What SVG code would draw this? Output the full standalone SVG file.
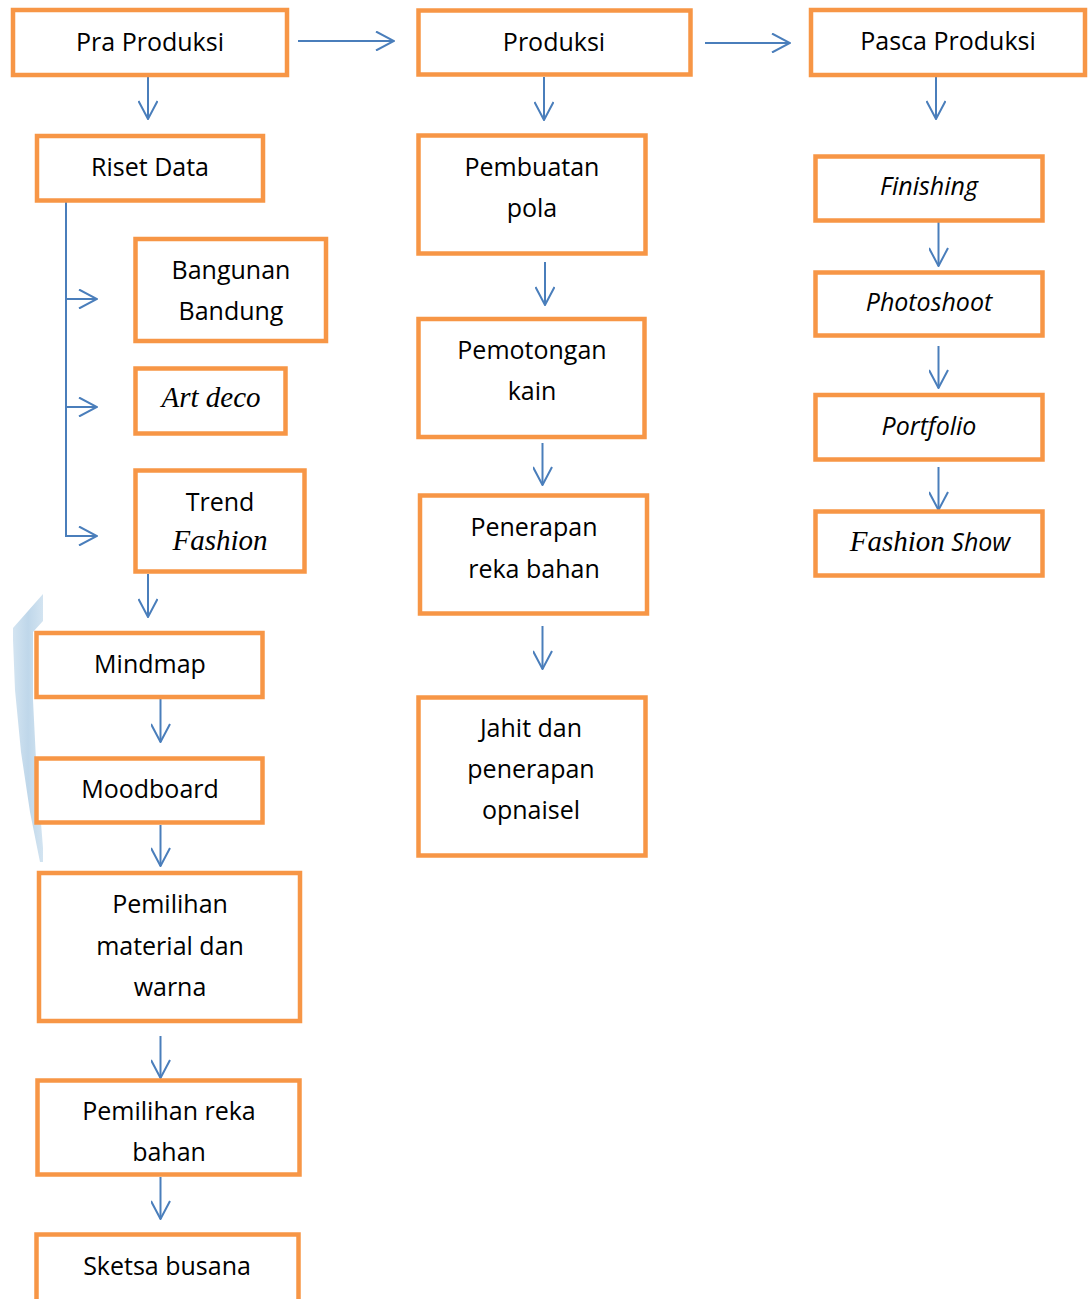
<svg xmlns="http://www.w3.org/2000/svg" width="1091" height="1299" viewBox="0 0 1091 1299">
<defs>
<style>
.box{fill:#fff;stroke:#F79646;stroke-width:4.5}
.t{font-family:"Open Sans","Liberation Sans",sans-serif;font-size:25px;fill:#000;text-anchor:middle}
.it{font-style:italic}
.sr{font-family:"Liberation Serif","Times New Roman",serif;font-style:italic;font-size:29px}
.c{fill:none;stroke:#4A7EBB;stroke-width:2;marker-end:url(#chev)}
</style>
<marker id="chev" viewBox="0 0 20 20" refX="19" refY="10" markerWidth="20" markerHeight="20" markerUnits="userSpaceOnUse" orient="auto">
<path d="M1,0.5 L19,10 L1,19.5" fill="none" stroke="#4A7EBB" stroke-width="2"/>
</marker>
<linearGradient id="wm" x1="0" y1="0" x2="1" y2="0">
<stop offset="0" stop-color="#D3E4F1"/>
<stop offset="0.5" stop-color="#BFD7EA"/>
<stop offset="1" stop-color="#D3E4F1"/>
</linearGradient>
</defs>
<rect width="1091" height="1299" fill="#fff"/>
<polygon points="43,594 43,621 33,632 33,700 36,760 43,848 43,862 40,862 30,812 21,752 15,690 13,640 13,628" fill="url(#wm)"/>

<g id="connectors">
<path class="c" d="M298,41 H394"/>
<path class="c" d="M705,43 H790"/>
<path class="c" d="M148,77 V119"/>
<path class="c" d="M544,77 V120"/>
<path class="c" d="M936,77 V119"/>
<path class="c" d="M37,200 H66 V536 H97"/>
<path class="c" d="M66,299 H97"/>
<path class="c" d="M66,407 H97"/>
<path class="c" d="M148,574 V617"/>
<path class="c" d="M160.5,699 V742"/>
<path class="c" d="M160.5,825 V866"/>
<path class="c" d="M160.5,1036 V1078"/>
<path class="c" d="M160.5,1177 V1219"/>
<path class="c" d="M545,262 V305"/>
<path class="c" d="M542.5,443 V485"/>
<path class="c" d="M542.5,626 V669"/>
<path class="c" d="M938.5,222 V266"/>
<path class="c" d="M938.5,346 V388"/>
<path class="c" d="M938.5,467 V510"/>
</g>

<g id="pra-produksi"><rect class="box" x="13" y="10" width="274" height="65"/><text class="t" x="150" y="51">Pra Produksi</text></g>
<g id="riset-data"><rect class="box" x="37" y="136" width="226" height="64.5"/><text class="t" x="150" y="176">Riset Data</text></g>
<g id="bangunan-bandung"><rect class="box" x="135.5" y="239" width="190.5" height="102"/><text class="t" x="231" y="279">Bangunan</text><text class="t" x="231" y="320">Bandung</text></g>
<g id="art-deco"><rect class="box" x="135.5" y="368.5" width="150" height="65"/><text class="t sr" x="211" y="407">Art deco</text></g>
<g id="trend-fashion"><rect class="box" x="135.5" y="470.5" width="169" height="101"/><text class="t" x="220" y="511">Trend</text><text class="t sr" x="220" y="550">Fashion</text></g>
<g id="mindmap"><rect class="box" x="36.5" y="633" width="226" height="64"/><text class="t" x="150" y="673">Mindmap</text></g>
<g id="moodboard"><rect class="box" x="36.5" y="758.5" width="226" height="64"/><text class="t" x="150" y="798">Moodboard</text></g>
<g id="pemilihan-material"><rect class="box" x="39" y="873" width="261" height="148"/><text class="t" x="170" y="913">Pemilihan</text><text class="t" x="170" y="955">material dan</text><text class="t" x="170" y="996">warna</text></g>
<g id="pemilihan-reka"><rect class="box" x="37.5" y="1080.5" width="262" height="94"/><text class="t" x="169" y="1120">Pemilihan reka</text><text class="t" x="169" y="1161">bahan</text></g>
<g id="sketsa-busana"><rect class="box" x="36.5" y="1234.5" width="262" height="100"/><text class="t" x="167" y="1275">Sketsa busana</text></g>

<g id="produksi"><rect class="box" x="418.5" y="10.5" width="272" height="64"/><text class="t" x="554" y="51">Produksi</text></g>
<g id="pembuatan-pola"><rect class="box" x="418.5" y="135.5" width="227" height="118"/><text class="t" x="532" y="176">Pembuatan</text><text class="t" x="532" y="217">pola</text></g>
<g id="pemotongan-kain"><rect class="box" x="418.5" y="319" width="226" height="118"/><text class="t" x="532" y="359">Pemotongan</text><text class="t" x="532" y="400">kain</text></g>
<g id="penerapan-reka"><rect class="box" x="420" y="495.5" width="227" height="118"/><text class="t" x="534" y="536">Penerapan</text><text class="t" x="534" y="578">reka bahan</text></g>
<g id="jahit"><rect class="box" x="418.5" y="697.5" width="227" height="158"/><text class="t" x="531" y="737">Jahit dan</text><text class="t" x="531" y="778">penerapan</text><text class="t" x="531" y="819">opnaisel</text></g>

<g id="pasca-produksi"><rect class="box" x="811" y="10" width="274" height="65"/><text class="t" x="948" y="50">Pasca Produksi</text></g>
<g id="finishing"><rect class="box" x="815.5" y="156.5" width="227" height="64"/><text class="t it" x="929" y="195">Finishing</text></g>
<g id="photoshoot"><rect class="box" x="815.5" y="272.5" width="227" height="63"/><text class="t it" x="929" y="311">Photoshoot</text></g>
<g id="portfolio"><rect class="box" x="815.5" y="395" width="227" height="64.5"/><text class="t it" x="929" y="435">Portfolio</text></g>
<g id="fashion-show"><rect class="box" x="815.5" y="511.5" width="227" height="64"/><text class="t it" x="930" y="551"><tspan class="sr">Fashion</tspan> Show</text></g>
</svg>
